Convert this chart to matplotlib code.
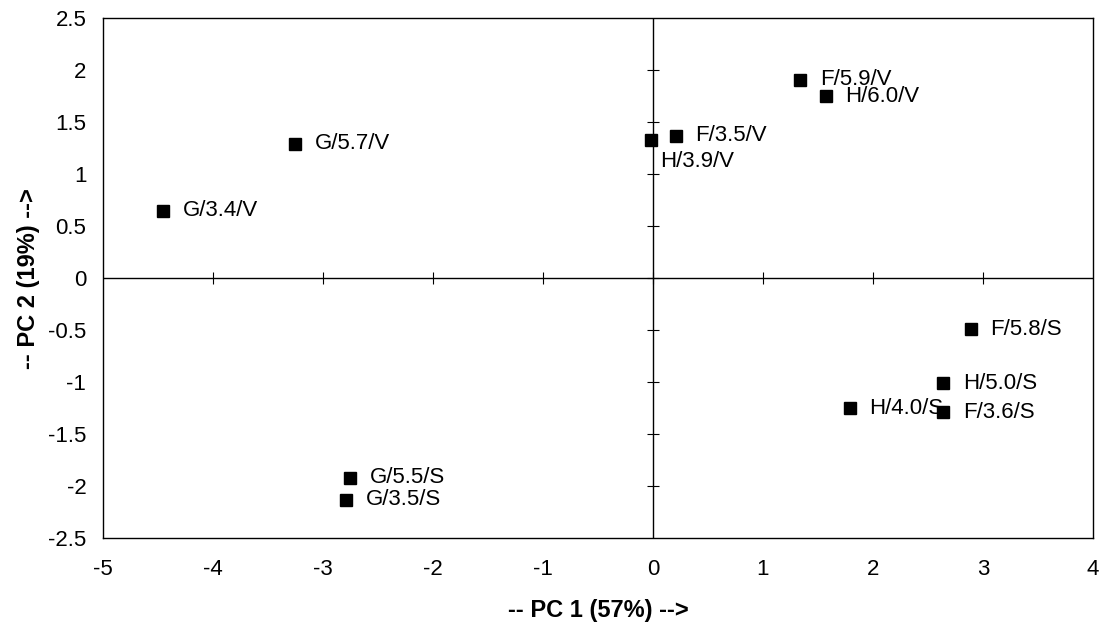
import matplotlib
matplotlib.use('Agg')
from matplotlib import pyplot as plt

plt.rcParams['font.family'] = ['Liberation Sans', 'DejaVu Sans']

labels = ['G/3.4/V', 'G/5.7/V', 'H/3.9/V', 'F/3.5/V', 'F/5.9/V', 'H/6.0/V',
          'F/5.8/S', 'H/5.0/S', 'H/4.0/S', 'F/3.6/S', 'G/5.5/S', 'G/3.5/S']
pc1 = [-4.45, -3.25, -0.02, 0.21, 1.34, 1.57, 2.89, 2.64, 1.79, 2.64, -2.75, -2.79]
pc2 = [0.65, 1.29, 1.33, 1.37, 1.91, 1.75, -0.49, -1.01, -1.25, -1.29, -1.92, -2.13]
xticks = [-5, -4, -3, -2, -1, 0, 1, 2, 3, 4]
yticks = [-2.5, -2, -1.5, -1, -0.5, 0, 0.5, 1, 1.5, 2, 2.5]

fig = plt.figure(figsize=(11.13, 6.27), dpi=100)
ax = fig.add_axes([0.0925, 0.142, 0.8895, 0.829])

ax.plot(pc1, pc2, 's', color='black', ms=9, zorder=3)
for lab, x, y in zip(labels, pc1, pc2):
    if lab == 'H/3.9/V':
        ax.annotate(lab, (x, y), xytext=(7, -23), textcoords='offset points',
                    fontsize=16, va='bottom')
    else:
        ax.annotate(lab, (x, y), xytext=(14, 0), textcoords='offset points',
                    fontsize=16, va='center')

# axes crossing at zero, with small crossing ticks
ax.axhline(0, color='black', lw=1, zorder=1)
ax.axvline(0, color='black', lw=1, zorder=1)
ax.plot(xticks[1:-1], [0] * len(xticks[1:-1]), '|', color='black', ms=9, mew=0.8)
ax.plot([0] * len(yticks[1:-1]), yticks[1:-1], '_', color='black', ms=9, mew=0.8)

ax.set_xlim(-5, 4)
ax.set_ylim(-2.5, 2.5)
ax.set_xticks(xticks)
ax.set_yticks(yticks)
ax.set_xticklabels([str(t) for t in xticks])
ax.set_yticklabels(['%g' % t for t in yticks])
ax.tick_params(length=0, labelsize=16)
ax.tick_params(axis='x', pad=15)
ax.tick_params(axis='y', pad=12)
for s in ax.spines.values():
    s.set_linewidth(1)

ax.set_xlabel('-- PC 1 (57%) -->', fontsize=17, fontweight='bold', labelpad=14)
ax.set_ylabel('-- PC 2 (19%) -->', fontsize=17, fontweight='bold', labelpad=6)

fig.savefig('out.png', dpi=100)
